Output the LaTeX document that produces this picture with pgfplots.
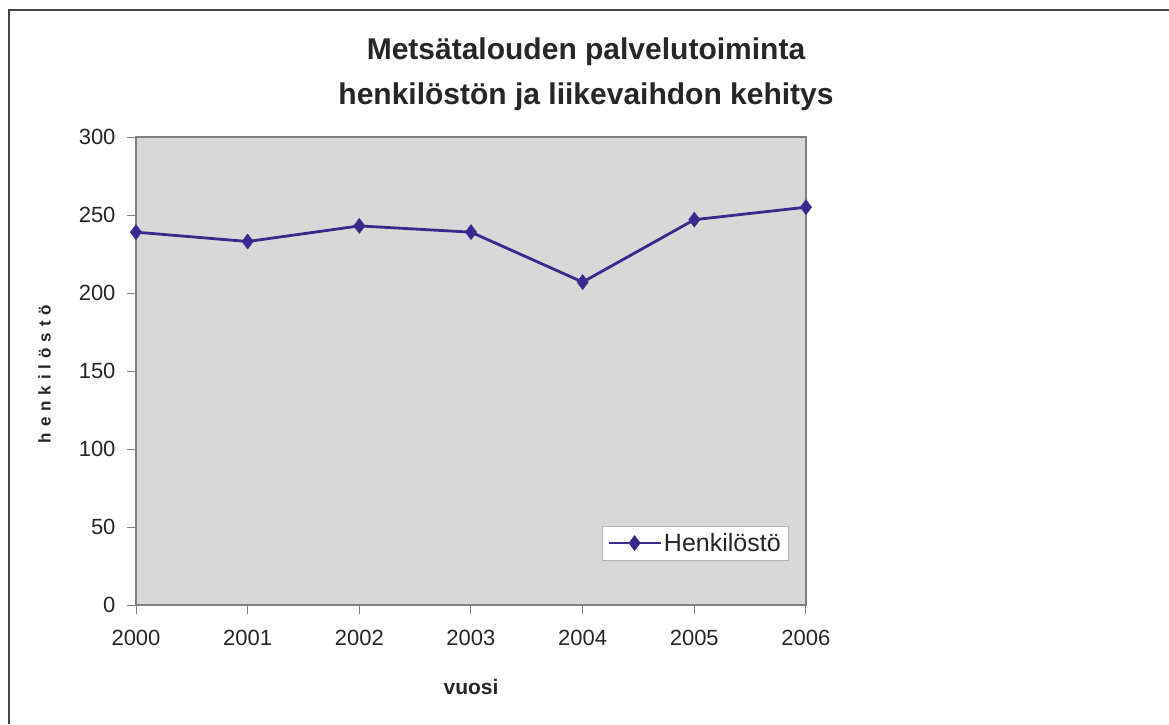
\documentclass[border=0pt]{standalone}
\usepackage{fontspec}
\setmainfont{Liberation Sans}
\usepackage{pgfplots}
\pgfplotsset{compat=1.18}
\definecolor{linec}{RGB}{58,40,140}
\definecolor{bgc}{RGB}{216,216,216}
\definecolor{axc}{RGB}{128,128,128}
\definecolor{framec}{RGB}{70,70,70}
\begin{document}
\begin{tikzpicture}
\path[use as bounding box] (0pt,0pt) rectangle (1169pt,724pt);
\draw[framec, line width=2pt] (8.5pt,0pt) -- (8.5pt,713.5pt) -- (1169pt,713.5pt);
\node[font=\bfseries\fontsize{30}{36}\selectfont, text=black!85, align=center] at (586pt,672pt) {Metsätalouden palvelutoiminta};
\node[font=\bfseries\fontsize{30}{36}\selectfont, text=black!85, align=center] at (586pt,627pt) {henkilöstön ja liikevaihdon kehitys};
\begin{axis}[
  at={(136pt,119pt)}, anchor=south west,
  scale only axis, width=670pt, height=468pt,
  xmin=2000, xmax=2006, ymin=0, ymax=300,
  xtick={2000,...,2006}, ytick={0,50,...,300},
  x tick label style={/pgf/number format/1000 sep={}},
  /pgf/number format/assume math mode=true,
  tick label style={font=\fontsize{22}{26}\selectfont, text=black!85},
  axis background/.style={fill=bgc},
  axis line style={axc, line width=1.2pt},
  tick style={axc, line width=1pt},
  major tick length=9pt,
  tick pos=left,
  xtick align=outside, ytick align=outside,
  xticklabel style={yshift=-13pt},
  yticklabel style={xshift=-8pt},
  xlabel={\textbf{vuosi}},
  xlabel style={font=\fontsize{21}{25}\selectfont, text=black!85, yshift=-26pt},
  ylabel={\addfontfeature{LetterSpace=35}\textbf{henkilöstö}},
  ylabel style={font=\fontsize{17}{20}\selectfont, text=black!85, yshift=21pt},
  legend style={at={(0.6955,0.096)}, anchor=south west, draw=axc!60, fill=white,
    font=\fontsize{25}{29}\selectfont, text=black!85, inner xsep=5pt, inner ysep=5pt},
  legend cell align=left,
  legend image code/.code={
    \draw[#1, mark=none] (0pt,0pt) -- (52pt,0pt);
    \draw[#1, only marks] plot coordinates {(26pt,0pt)};
  },
]
\addplot[linec, line width=2.8pt, mark=diamond*, mark size=7.5pt, mark options={fill=linec, line width=0.5pt}]
  coordinates {(2000,239) (2001,233) (2002,243) (2003,239) (2004,207) (2005,247) (2006,255)};
\addlegendentry{Henkilöstö}
\end{axis}
\end{tikzpicture}
\end{document}
